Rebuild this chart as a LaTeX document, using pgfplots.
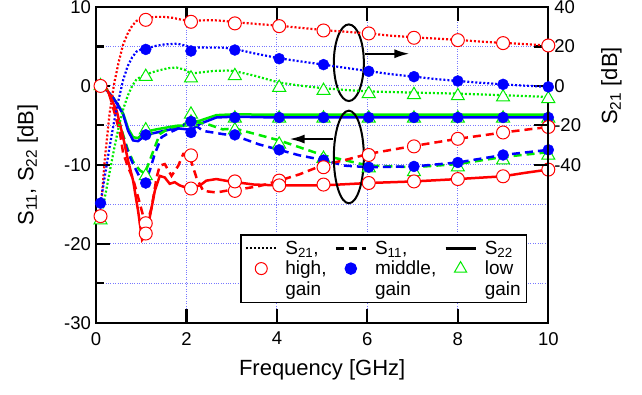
\documentclass[border=0pt]{standalone}
\usepackage{fontspec}
\setmainfont{Liberation Sans}
\usepackage{pgfplots}
\pgfplotsset{compat=1.18}
\usetikzlibrary{arrows.meta}
\definecolor{mygreen}{RGB}{0,235,0}
\definecolor{gridblue}{RGB}{120,120,255}
\newcommand{\Ss}[1]{S\textsubscript{#1}}
\pgfplotsset{
  s21/.style={line width=2.2pt, dash pattern=on 2pt off 2pt},
  s11/.style={line width=2.5pt, dash pattern=on 8pt off 5pt},
  s22/.style={line width=2.5pt},
  mhi/.style={only marks, mark=*, mark size=6.5pt, mark options={draw=red, fill=white, line width=1pt, solid}},
  mmid/.style={only marks, mark=*, mark size=5.5pt, mark options={draw=blue, fill=blue, solid}},
  mlo/.style={only marks, mark=triangle*, mark size=7.5pt, mark options={draw=mygreen, fill=white, line width=1pt, solid}},
}
\begin{document}
\begin{tikzpicture}
\begin{axis}[name=main, scale only axis, width=452.3pt, height=315.7pt,
  xmin=0, xmax=10, ymin=-30, ymax=10,
  xtick={0,2,4,6,8,10}, ytick={-30,-20,-10,0,10}, minor ytick={-25,-15,-5,5},
  ytick pos=left, tick align=inside,
  major tick length=14pt, minor tick length=8pt,
  axis line style={line width=2.2pt},
  every tick/.style={black, line width=2.2pt},
  grid=both,
  major grid style={gridblue, dotted, line width=0.9pt},
  minor grid style={gridblue, dotted, line width=0.9pt},
  /pgf/number format/assume math mode=true,
  tick label style={font=\fontsize{18.5}{22}\selectfont},
  xticklabel style={yshift=-6pt},
  yticklabel style={xshift=-1.5pt},
  label style={font=\fontsize{22}{26}\selectfont},
  xlabel={Frequency [GHz]},
  xlabel style={at={(axis description cs:0.5,-0.117)}, anchor=north, inner sep=0pt},
  ylabel={\Ss{11}, \Ss{22} [dB]},
  ylabel style={at={(axis description cs:-0.128,0.5)}, anchor=south, inner sep=0pt},
]
% S22 low (green solid)
\addplot[mygreen, s22] coordinates {(0.1,0)(0.2,-0.3)(0.38,-1.5)(0.5,-2.5)(0.6,-3.5)(0.71,-5.4)(0.82,-6.5)(0.93,-6.6)(1.1,-5.8)(1.34,-5.5)(1.78,-5.05)(2.0,-5.0)(2.1,-4.6)(2.3,-4.4)(2.66,-3.7)(3.05,-3.6)(4,-3.65)(6,-3.65)(8,-3.65)(10,-3.65)};
% S22 mid (blue solid)
\addplot[blue, s22] coordinates {(0.1,0)(0.2,-0.3)(0.38,-1.5)(0.5,-2.6)(0.6,-3.6)(0.71,-5.7)(0.82,-6.9)(0.93,-7.0)(1.1,-6.2)(1.34,-5.9)(1.78,-5.35)(2.0,-5.5)(2.1,-5.6)(2.3,-4.8)(2.66,-4.0)(3.05,-3.9)(4,-4.0)(6,-4.0)(8,-4.0)(10,-4.0)};
% S11 low (green dashed)
\addplot[mygreen, s11] coordinates {(0.1,0)(0.2,-0.3)(0.3,-1)(0.4,-2.4)(0.5,-4.3)(0.6,-6.2)(0.7,-8)(0.82,-9.6)(0.97,-10.7)(1.08,-11.1)(1.27,-8.2)(1.41,-6.1)(1.63,-5.3)(1.85,-5.05)(2.1,-4.5)(2.44,-4.8)(2.8,-5.5)(3.07,-5.4)(4.05,-6.9)(5.03,-8.8)(6.03,-10.1)(7.03,-10.3)(8,-9.9)(9,-9.0)(10,-8.4)};
% S11 mid (blue dashed)
\addplot[blue, s11] coordinates {(0.1,0)(0.2,-0.3)(0.3,-1)(0.4,-2.5)(0.5,-4.5)(0.6,-6.5)(0.7,-8.3)(0.82,-9.9)(0.97,-11.6)(1.08,-12.3)(1.19,-10.7)(1.3,-8.6)(1.45,-6.5)(1.63,-5.9)(1.78,-5.5)(2.0,-4.8)(2.1,-4.6)(2.37,-5.7)(2.8,-6.1)(3.07,-6.3)(3.6,-7.4)(4.05,-8.1)(4.5,-8.8)(5.03,-9.4)(5.5,-10.1)(6.03,-10.3)(7.03,-10.2)(8,-9.7)(9,-8.75)(10,-8.1)};
% S11 high (red dashed)
\addplot[red, s11] coordinates {(0.1,0)(0.2,-0.2)(0.27,-0.6)(0.42,-3.6)(0.53,-6.0)(0.6,-8.5)(0.71,-10.3)(0.82,-11.8)(0.97,-14.9)(1.08,-17.3)(1.15,-17.0)(1.23,-15.4)(1.34,-11.6)(1.41,-10.1)(1.52,-9.9)(1.67,-11.4)(1.82,-10.1)(1.93,-8.6)(2.05,-8.6)(2.22,-11.6)(2.37,-13.3)(2.66,-13.5)(2.96,-13.2)(3.07,-13.2)(3.6,-12.7)(4.05,-12.0)(4.5,-11.2)(5.03,-10.0)(5.5,-9.4)(6.03,-8.6)(7.03,-7.6)(8,-6.7)(9,-5.9)(10,-5.2)};
% S22 high (red solid)
\addplot[red, s22] coordinates {(0.1,0)(0.24,-0.4)(0.46,-3.2)(0.6,-6.5)(0.71,-9.5)(0.82,-12)(0.93,-15.8)(1.02,-19.5)(1.06,-19.2)(1.19,-16.6)(1.3,-13.3)(1.41,-11.4)(1.52,-11.6)(1.63,-12.4)(1.74,-12.2)(1.85,-12.6)(2.0,-12.9)(2.1,-12.9)(2.3,-12.6)(2.44,-12.0)(2.66,-11.8)(2.96,-12.1)(3.5,-12.5)(4.05,-12.6)(5.03,-12.6)(6.03,-12.3)(7.03,-12.1)(8,-11.8)(9,-11.45)(9.5,-11.0)(10,-10.6)};
% markers
\addplot[mlo] coordinates {(0.1,0)(1.1,-5.6)(2.1,-3.6)(3.07,-4.1)(4.05,-4.1)(5.03,-4.1)(6.03,-4.1)(7.03,-4.1)(8,-4.1)(9,-4.1)(10,-4.1)};
\addplot[mlo] coordinates {(1.1,-11.4)(2.1,-4.6)(3.07,-5.6)(4.05,-7.4)(5.03,-9.2)(6.03,-10.4)(7.03,-10.9)(8,-10.3)(9,-9.4)(10,-8.8)};
\addplot[mmid] coordinates {(0.1,0)(1.1,-6.2)(2.1,-5.9)(3.07,-4.0)(4.05,-4.0)(5.03,-4.0)(6.03,-4.0)(7.03,-4.0)(8,-4.0)(9,-4.0)(10,-4.0)};
\addplot[mmid] coordinates {(1.1,-12.3)(2.1,-4.5)(3.07,-6.2)(4.05,-8.1)(5.03,-9.4)(6.03,-10.3)(7.03,-10.2)(8,-9.7)(9,-8.75)(10,-8.1)};
\addplot[mhi] coordinates {(1.1,-17.4)(2.1,-8.8)(3.07,-13.3)(4.05,-12.0)(5.03,-10.3)(6.03,-8.75)(7.03,-7.66)(8,-6.7)(9,-5.9)(10,-5.2)};
\addplot[mhi] coordinates {(0.1,0)(1.1,-18.7)(2.1,-13.0)(3.07,-12.1)(4.05,-12.6)(5.03,-12.5)(6.03,-12.3)(7.03,-12.1)(8,-11.8)(9,-11.45)(10,-10.6)};
% annotations
\draw[line width=2pt] (axis cs:5.59,2.94) ellipse (15pt and 38.3pt);
\draw[line width=2pt] (axis cs:5.59,-9.0) ellipse (15pt and 46.3pt);
\draw[line width=2pt,-{Latex[length=15pt,width=9pt]}] (axis cs:5.94,4.08) -- (axis cs:6.93,4.08);
\draw[line width=2pt,-{Latex[length=15pt,width=9pt]}] (axis cs:5.24,-6.73) -- (axis cs:4.28,-6.73);
\end{axis}
\begin{axis}[scale only axis, width=452.3pt, height=315.7pt,
  xmin=0, xmax=10, ymin=-120, ymax=40,
  axis x line=none, axis y line*=right,
  ytick={-40,-20,0,20,40}, tick align=inside, major tick length=14pt,
  axis line style={line width=2.2pt},
  every tick/.style={black, line width=2.2pt},
  /pgf/number format/assume math mode=true,
  tick label style={font=\fontsize{18.5}{22}\selectfont},
  yticklabel style={xshift=2.5pt},
  label style={font=\fontsize{22}{26}\selectfont},
  ylabel={\Ss{21} [dB]},
  ylabel style={at={(axis description cs:1.1165,0.75)}, anchor=north, inner sep=0pt},
  legend columns=3,
  legend cell align=left,
  legend image code/.code={\draw[mark repeat=2,mark phase=2,#1] plot coordinates {(0pt,0pt) (15pt,0pt) (30pt,0pt)};},
  legend style={at={(0.954,0.061)}, anchor=south east,
    font=\fontsize{19}{21}\selectfont, draw=black, line width=1.5pt,
    cells={anchor=west, inner xsep=4pt, inner ysep=3.6pt},
    column sep=6pt, row sep=1.2pt, inner sep=4pt},
]
\addplot[forget plot, red, s21] coordinates {(0.1,-66)(0.15,-50)(0.2,-36)(0.3,-14)(0.4,1)(0.5,12)(0.6,21)(0.7,26.5)(0.8,30.5)(0.9,33)(1.0,34)(1.1,34.2)(1.3,35)(1.5,35)(1.7,34.5)(1.9,33.5)(2.1,33)(2.3,33.2)(2.6,33.3)(2.8,33)(3.07,32.3)(3.5,31.5)(4.05,30.5)(4.5,29.5)(5.03,28.3)(5.5,27.5)(6.03,26.6)(6.5,25.5)(7.03,24.6)(7.5,24)(8,23.3)(8.5,22.5)(9,21.8)(9.5,21.2)(10,20.5)};
\addplot[forget plot, blue, s21] coordinates {(0.1,-59.4)(0.2,-45)(0.3,-31)(0.4,-18)(0.5,-7)(0.6,3)(0.7,10)(0.8,14.5)(0.9,17.5)(1.0,18.5)(1.1,18.8)(1.3,20.2)(1.5,21)(1.8,21.4)(2.0,20.3)(2.1,19.3)(2.25,19.5)(2.5,19.4)(2.8,19.4)(3.07,18.7)(3.5,16.5)(4.05,14)(4.5,12.5)(5.03,10.8)(5.5,9.2)(6.03,7.5)(6.5,6)(7.03,4.7)(7.5,3.5)(8,2.5)(8.5,1.6)(9,0.8)(9.5,0.1)(10,-0.5)};
\addplot[forget plot, mygreen, s21] coordinates {(0.1,-68)(0.2,-56)(0.3,-44)(0.4,-32)(0.5,-21)(0.6,-12)(0.7,-5)(0.8,0)(0.9,3.5)(1.1,5.8)(1.34,7.6)(1.6,9)(1.78,9.3)(1.95,8.3)(2.1,6.3)(2.3,6.8)(2.6,7.6)(2.9,7.8)(3.07,7.5)(3.5,5.2)(4.05,1.7)(4.5,0.2)(5.03,-1.2)(5.5,-2)(6.03,-2.8)(7.03,-3.4)(8,-3.9)(9,-4.7)(10,-5.6)};
\addplot[forget plot, mlo] coordinates {(0.1,-68)(1.1,4.7)(2.1,3.9)(3.07,5.1)(4.05,-0.8)(5.03,-2.4)(6.03,-4.0)(7.03,-4.5)(8,-5.1)(9,-5.7)(10,-6.5)};
\addplot[forget plot, mmid] coordinates {(0.1,-59.4)(1.1,18.5)(2.1,17.7)(3.07,18.2)(4.05,13.8)(5.03,10.8)(6.03,7.4)(7.03,4.7)(8,2.5)(9,0.8)(10,-0.5)};
\addplot[forget plot, mhi] coordinates {(0.1,-66)(1.1,33.5)(2.1,32.5)(3.07,31.7)(4.05,30.3)(5.03,28.1)(6.03,26.6)(7.03,24.4)(8,23.2)(9,21.7)(10,20.5)};
\addlegendimage{black, line width=2.2pt, dash pattern=on 2pt off 2pt}
\addlegendentry{\Ss{21},}
\addlegendimage{black, line width=2.5pt, dash pattern=on 8pt off 5pt}
\addlegendentry{\Ss{11},}
\addlegendimage{black, line width=2.5pt, solid}
\addlegendentry{\Ss{22}}
\addlegendimage{only marks, mark=*, mark size=6pt, mark options={draw=red, fill=white, line width=1pt, solid}}
\addlegendentry{high,}
\addlegendimage{only marks, mark=*, mark size=5.5pt, mark options={draw=blue, fill=blue, solid}}
\addlegendentry{middle,}
\addlegendimage{only marks, mark=triangle*, mark size=7pt, mark options={draw=mygreen, fill=white, line width=1pt, solid}}
\addlegendentry{low}
\addlegendimage{empty legend}
\addlegendentry{gain}
\addlegendimage{empty legend}
\addlegendentry{gain}
\addlegendimage{empty legend}
\addlegendentry{gain}
\end{axis}
\pgfresetboundingbox
\path[use as bounding box] (main.south west) ++(-96pt,-71.3pt) rectangle ++(642pt,394pt);
\end{tikzpicture}
\end{document}
